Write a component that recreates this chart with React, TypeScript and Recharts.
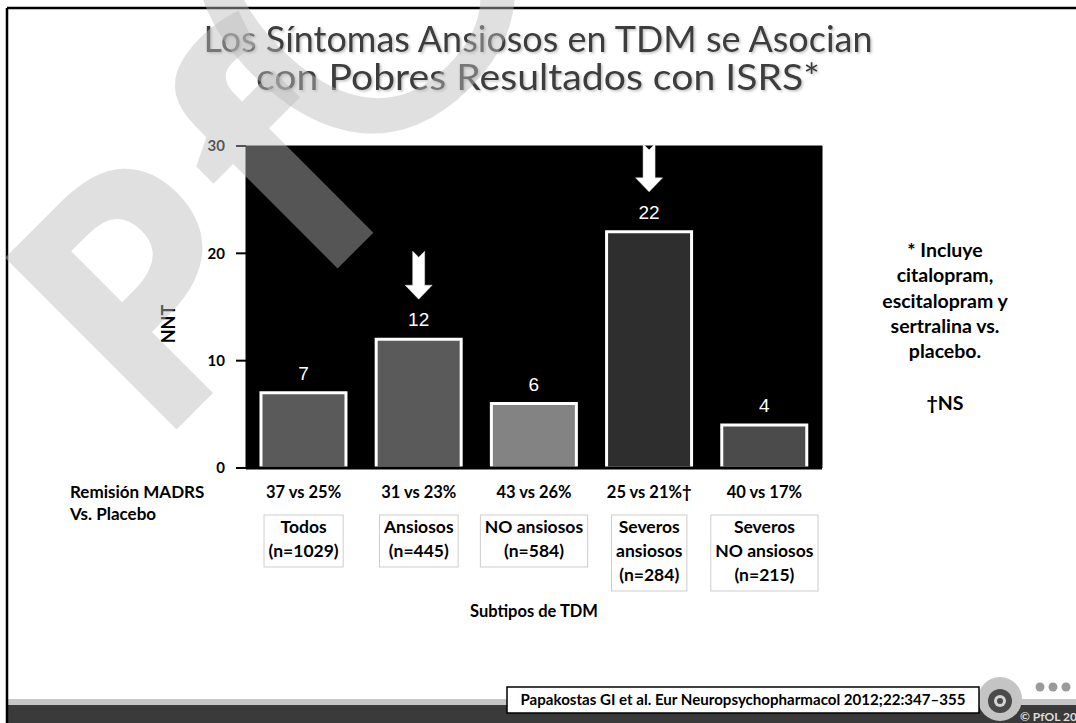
import React from 'react';
import { BarChart, Bar, XAxis, YAxis, CartesianGrid, Cell, LabelList, Label } from 'recharts';

// ---------- data ----------
const categories = ['Todos', 'Ansiosos', 'NO ansiosos', 'Severos ansiosos', 'Severos NO ansiosos'];
const nntValues = [7, 12, 6, 22, 4];
const remissionLabels = ['37 vs 25%', '31 vs 23%', '43 vs 26%', '25 vs 21%†', '40 vs 17%'];
const groupLines = [
  ['Todos', '(n=1029)'],
  ['Ansiosos', '(n=445)'],
  ['NO ansiosos', '(n=584)'],
  ['Severos', 'ansiosos', '(n=284)'],
  ['Severos', 'NO ansiosos', '(n=215)'],
];
const arrowFlags = [false, true, false, true, false];
const yTicks = [0, 10, 20, 30];
const titleLines = ['Los Síntomas Ansiosos en TDM se Asocian', 'con Pobres Resultados con ISRS*'];
const noteLines = ['* Incluye', 'citalopram,', 'escitalopram y', 'sertralina vs.', 'placebo.'];
const noteNS = '†NS';
const rowLabel = ['Remisión MADRS', 'Vs. Placebo'];
const citation = 'Papakostas GI et al. Eur Neuropsychopharmacol 2012;22:347–355';

// ---------- styles ----------
const barColors = ['#5a5a5a', '#5a5a5a', '#838383', '#2e2e2e', '#4b4b4b'];
const titleWidths = [669, 564];
const FONT = 'Lato, "Open Sans", sans-serif';

let ctx: CanvasRenderingContext2D | null = null;
const measure = (t: string, font: string) => {
  if (!ctx) ctx = document.createElement('canvas').getContext('2d');
  if (!ctx) return t.length * 8;
  ctx.font = font;
  return ctx.measureText(t).width;
};

const CategoryTick = (props: any) => {
  const { x, y, index } = props;
  const lines = groupLines[index] || [];
  const w = Math.max(...lines.map((l) => measure(l, 'bold 17.5px Lato'))) + 9;
  const top = y + 47;
  return (
    <g>
      <text x={x} y={y + 30} textAnchor="middle" fontFamily={FONT} fontWeight={700} fontSize={16.5} fill="#000">
        {remissionLabels[index]}
      </text>
      <rect x={x - w / 2} y={top} width={w} height={lines.length * 24 + 4} fill="#fff" stroke="#cdcdcd" strokeWidth={1} />
      {lines.map((l, j) => (
        <text key={j} x={x} y={top + 18 + j * 24} textAnchor="middle" fontFamily={FONT} fontWeight={700} fontSize={17.5} fill="#000">
          {l}
        </text>
      ))}
    </g>
  );
};

const ValueLabel = (props: any) => {
  const { x, y, width, value } = props;
  const idx = props.index != null ? props.index : nntValues.indexOf(value);
  const cx = x + width / 2;
  const tip = y - 40;
  const len = 48;
  const topY = tip - len;
  const arrow = `M${cx - 6},${topY} L${cx},${topY + 6} L${cx + 6},${topY} L${cx + 6},${tip - 14} L${cx + 13.5},${tip - 14} L${cx},${tip} L${cx - 13.5},${tip - 14} L${cx - 6},${tip - 14} Z`;
  return (
    <g>
      <text x={cx} y={y - 13} textAnchor="middle" fill="#fff" fontFamily='"Liberation Sans", Arial, sans-serif' fontSize={19}>
        {value}
      </text>
      {arrowFlags[idx] && <path d={arrow} fill="#fff" stroke="#ddd" strokeWidth={0.5} />}
    </g>
  );
};

const NntLabel = (props: any) => {
  const vb = props.viewBox || { x: 186, y: 146, width: 60, height: 322 };
  const x = vb.x - 18;
  const y = vb.y + vb.height / 2 + 17;
  return (
    <text x={x} y={y} transform={`rotate(-90 ${x} ${y})`} textAnchor="middle" dominantBaseline="central" fontFamily={FONT} fontWeight={700} fontSize={18} fill="#000">
      NNT
    </text>
  );
};

export default function App() {
  const data = categories.map((c, i) => ({ cat: c, nnt: nntValues[i] }));
  return (
    <div style={{ position: 'absolute', left: 0, top: 0, width: 1076, height: 723, overflow: 'hidden', background: '#fff' }}>
      <svg style={{ position: 'absolute', left: 0, top: 0 }} width={1076} height={723}>
        <rect x={0} y={0} width={1076} height={723} fill="#fff" />
        <rect x={8} y={699} width={1068} height={6} fill="#c6c6c6" />
        <rect x={8} y={705} width={1068} height={18} fill="#3a3a3a" />
        <line x1={7} y1={8} x2={1076} y2={8} stroke="#000" strokeWidth={2.5} />
        <line x1={7} y1={8} x2={7} y2={723} stroke="#000" strokeWidth={2.5} />
      </svg>
      <div style={{ position: 'absolute', left: 0, top: 0 }}>
        <BarChart width={1076} height={723} data={data} margin={{ top: 146, right: 254, bottom: 105, left: 186 }} barCategoryGap="13%">
          <CartesianGrid fill="#000" stroke="#000" />
          <XAxis
            dataKey="cat"
            axisLine={{ stroke: '#000', strokeWidth: 3 }}
            tickLine={false}
            tickSize={0}
            tickMargin={0}
            height={150}
            interval={0}
            tick={<CategoryTick />}
          >
            <Label value="Subtipos de TDM" position="insideBottom" offset={1} fontFamily={FONT} fontWeight={700} fontSize={16.5} fill="#000" />
          </XAxis>
          <YAxis
            domain={[0, 30]}
            ticks={yTicks}
            width={60}
            axisLine={false}
            tickLine={{ stroke: '#000', strokeWidth: 2 }}
            tickSize={10}
            tickMargin={11}
            interval={0}
            tick={{ fill: '#000', fontSize: 15, fontWeight: 700, fontFamily: 'Lato' }}
          >
            <Label content={<NntLabel />} />
          </YAxis>
          <Bar dataKey="nnt" isAnimationActive={false} stroke="#fff" strokeWidth={3}>
            {data.map((d, i) => (
              <Cell key={i} fill={barColors[i]} />
            ))}
            <LabelList dataKey="nnt" content={<ValueLabel />} />
          </Bar>
        </BarChart>
      </div>
      <svg style={{ position: 'absolute', left: 0, top: 0, pointerEvents: 'none' }} width={1076} height={723}>
        <defs>
          <filter id="tshadow" x="-5%" y="-30%" width="110%" height="160%">
            <feDropShadow dx="1.5" dy="1.5" stdDeviation="0.8" floodColor="#999" floodOpacity="0.6" />
          </filter>
        </defs>
        {titleLines.map((t, i) => (
          <text key={i} x={538} y={52 + i * 38} textAnchor="middle" fontFamily={FONT} fontSize={36} fill="#3c3c3c" textLength={titleWidths[i]} lengthAdjust="spacingAndGlyphs" filter="url(#tshadow)">
            {t}
          </text>
        ))}
        {noteLines.map((t, i) => (
          <text key={i} x={945} y={257 + i * 25.3} textAnchor="middle" fontFamily={FONT} fontWeight={700} fontSize={19.5} fill="#000">{t}</text>
        ))}
        <text x={945} y={410} textAnchor="middle" fontFamily={FONT} fontWeight={700} fontSize={19.5} fill="#000">{noteNS}</text>
        {rowLabel.map((t, i) => (
          <text key={i} x={70} y={498 + i * 22} fontFamily={FONT} fontWeight={700} fontSize={17} fill="#000">{t}</text>
        ))}
        <circle cx={1000} cy={699} r={22} fill="#c4c4c4" />
        <circle cx={1000} cy={701} r={12} fill="#4a4a4a" />
        <circle cx={1000} cy={701} r={6} fill="#d4d4d4" />
        <circle cx={1000} cy={701} r={3} fill="#4a4a4a" />
        {[1040, 1053, 1066].map((cx) => (
          <circle key={cx} cx={cx} cy={687} r={4.5} fill="#9a9a9a" />
        ))}
        <text x={1020} y={721} fontFamily={FONT} fontWeight={700} fontSize={12} fill="#dedede">© PfOL 2013</text>
        <rect x={507} y={687} width={472} height={26} fill="#fff" stroke="#000" strokeWidth={1.5} />
        <text x={743} y={705} textAnchor="middle" fontFamily={FONT} fontWeight={700} fontSize={15} fill="#000" textLength={445} lengthAdjust="spacingAndGlyphs">{citation}</text>
      </svg>
      <svg style={{ position: 'absolute', left: 0, top: 0, pointerEvents: 'none' }} width={1076} height={723}>
        <g fill="rgb(187,187,187)" fillOpacity={0.455}>
          <text transform="translate(155,451) rotate(-45)" fontFamily='"Open Sans", sans-serif' fontWeight={700} fontSize={340} letterSpacing={10}>Pf</text>
          <text transform="translate(346,206) rotate(-45)" fontFamily='"Open Sans", sans-serif' fontWeight={400} fontSize={440}>OL</text>
        </g>
      </svg>
    </div>
  );
}
